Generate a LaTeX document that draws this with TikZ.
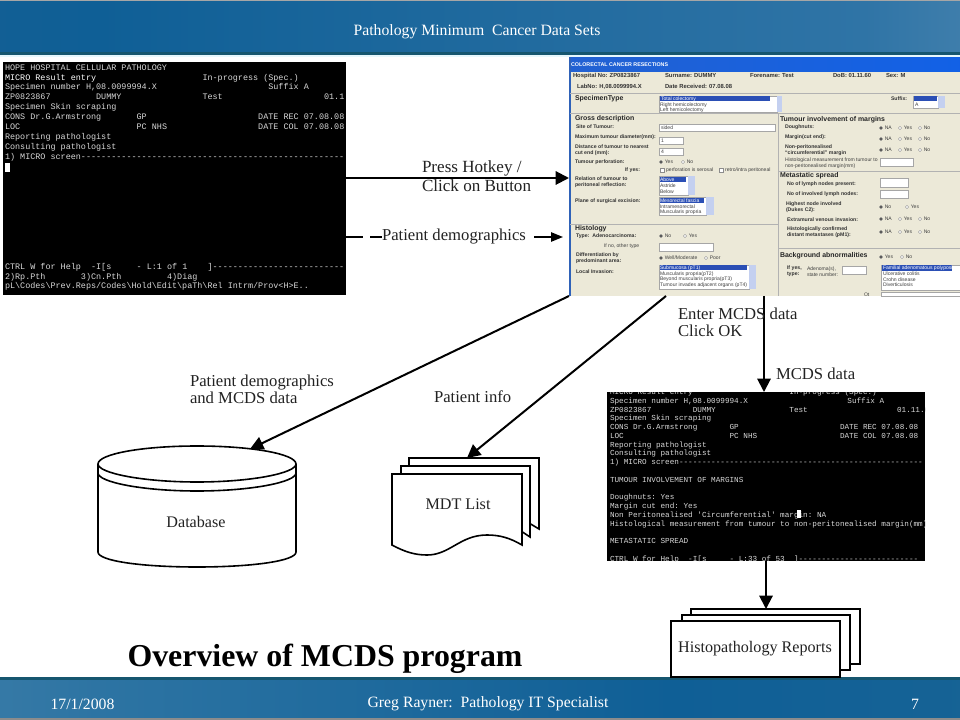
\documentclass[tikz,border=0pt]{standalone}
\usepackage{fontspec}
\setmainfont{Liberation Serif}
\setsansfont{Liberation Sans}
\setmonofont{Liberation Mono}
\usetikzlibrary{arrows.meta}
\definecolor{hdA}{HTML}{1F5E8E}
\definecolor{hdB}{HTML}{0F5F96}
\definecolor{hdC}{HTML}{2F74A6}
\definecolor{hdD}{HTML}{8AAEC6}
\definecolor{ftA}{HTML}{5F93B4}
\definecolor{ftB}{HTML}{2D74A3}
\definecolor{ftC}{HTML}{1A6595}
\definecolor{ftD}{HTML}{4D87AD}
\definecolor{tbA}{HTML}{2A62C8}
\definecolor{tbB}{HTML}{0A60F0}
\definecolor{bandc}{HTML}{16566F}
\definecolor{formbg}{HTML}{ECE9D8}
\definecolor{termtext}{HTML}{D8D8D8}
\definecolor{selblue}{HTML}{2B4FB5}
\definecolor{scrollb}{HTML}{C4D0F0}
\definecolor{labtext}{HTML}{222222}
\definecolor{formedge}{HTML}{2F62B8}
\pgfdeclarehorizontalshading{headbar}{100bp}{color(0bp)=(hdA);color(30bp)=(hdB);color(70bp)=(hdC);color(100bp)=(hdD)}
\pgfdeclarehorizontalshading{footbar}{100bp}{color(0bp)=(ftA);color(30bp)=(ftB);color(60bp)=(hdB);color(85bp)=(ftC);color(100bp)=(ftD)}
\pgfdeclarehorizontalshading{titlebar}{100bp}{color(0bp)=(tbA);color(100bp)=(tbB)}
\newcommand{\sk}[1]{\hspace*{#1\dimexpr 0.6001em\relax}}
\tikzset{
  x=0.75pt,y=-0.75pt,
  term/.style={anchor=north west,inner sep=0pt,outer sep=0pt,text=termtext,align=left,font=\ttfamily\fontsize{6.33pt}{7.42pt}\selectfont},
  termb/.style={anchor=north west,inner sep=0pt,outer sep=0pt,text=termtext,align=left,font=\ttfamily\fontsize{5.75pt}{6.58pt}\selectfont},
  lab/.style={anchor=west,inner sep=0pt,outer sep=0pt,text=labtext,align=left,font=\fontsize{12.5pt}{12.8pt}\selectfont},
  boxlab/.style={inner sep=0pt,outer sep=0pt,text=labtext,font=\fontsize{12.1pt}{13pt}\selectfont},
  barlab/.style={inner sep=0pt,outer sep=0pt,text=white,font=\fontsize{11.8pt}{13pt}\selectfont},
  flow/.style={draw=black,line width=1.5pt,-{Triangle[length=10pt,width=10pt]}},
  flowplain/.style={draw=black,line width=1.2pt},
  flowsmall/.style={draw=black,line width=1.2pt,-{Triangle[length=9pt,width=7pt]}},
  shapeln/.style={draw=black,line width=1.2pt,fill=white},
  fb/.style={anchor=west,inner sep=0pt,outer sep=0pt,text=black!80,font=\sffamily\bfseries\fontsize{3.9pt}{4.3pt}\selectfont,align=left},
  fbig/.style={anchor=west,inner sep=0pt,outer sep=0pt,text=black!80,font=\sffamily\bfseries\fontsize{4.4pt}{5pt}\selectfont},
  fn/.style={anchor=west,inner sep=0pt,outer sep=0pt,text=black!75,font=\sffamily\fontsize{3.8pt}{4.3pt}\selectfont,align=left},
  fh/.style={anchor=west,inner sep=0pt,outer sep=0pt,text=black!85,font=\sffamily\bfseries\fontsize{5.2pt}{5.6pt}\selectfont},
  inbox/.style={fill=white,draw=black!35,line width=0.3pt},
  selrow/.style={fill=selblue},
  scroll/.style={fill=scrollb},
  sepline/.style={draw=black!30,line width=0.4pt},
  radoff/.style={draw=black!45,line width=0.25pt,fill=white,circle,minimum size=2.4pt,inner sep=0pt},
  radon/.style={draw=black!45,line width=0.25pt,fill=black!70,circle,minimum size=2.4pt,inner sep=0pt},
  chk/.style={draw=black!45,line width=0.25pt,fill=white,minimum size=3pt,inner sep=0pt},
}
% name, x, y, style, label
\newcommand{\rad}[5]{\node[#4] (#1) at (#2,#3) {}; \node[fn,right=1.5pt] (#1t) at (#1.east) {#5};}
\begin{document}
\begin{tikzpicture}
\useasboundingbox (0,0) rectangle (960,720);
\fill[white] (0,0) rectangle (960,720);
% header bar
\shade[shading=headbar] (0,0) rectangle (960,52);
\fill[black!35] (0,0) rectangle (960,1.5);
\fill[bandc] (0,52) rectangle (960,55.5);
\fill[cyan!10] (0,55.5) rectangle (960,57);
\node[barlab] (title) at (477,32) {Pathology Minimum\ \ Cancer Data Sets};
% footer bar
\shade[shading=footbar] (0,677) rectangle (960,718);
\fill[bandc] (0,677) rectangle (960,680);
\fill[black!45] (0,718) rectangle (960,720);
\node[barlab] (fdate) at (82.5,704) {17/1/2008};
\node[barlab] (fname) at (488,704) {Greg Rayner:\ \ Pathology IT Specialist};
\node[barlab] (fpage) at (915,704) {7};

% first terminal
\node[fill=black,minimum width=343*0.75pt,minimum height=233*0.75pt,inner sep=0pt,outer sep=0pt,anchor=north west] (term1) at (3,62) {};
\node[term] (t1top) at (5,64.5) {HOPE HOSPITAL CELLULAR PATHOLOGY\\
\textcolor{white}{MICRO Result entry}\sk{21}In-progress (Spec.)\\
Specimen number H,08.0099994.X\sk{22}Suffix A\\
ZP0823867\sk{9}DUMMY\sk{16}Test\sk{20}01.1\\
Specimen Skin scraping\\
CONS Dr.G.Armstrong\sk{7}GP\sk{22}DATE REC 07.08.08\\
LOC\sk{23}PC NHS\sk{18}DATE COL 07.08.08\\
Reporting pathologist\\
Consulting pathologist\\
1) MICRO screen----------------------------------------------------};
\fill[white] (5,163.5) rectangle (10,172);
\node[term] (t1bot) at (5,263) {CTRL W for Help\sk{2}-I[s\sk{5}- L:1 of 1\sk{4}]--------------------------\\
2)Rp.Pth\sk{7}3)Cn.Pth\sk{9}4)Diag\\
pL\textbackslash Codes\textbackslash Prev.Reps/Codes\textbackslash Hold\textbackslash Edit\textbackslash paTh\textbackslash Rel Intrm/Prov<H>E..};

% form window
\node[fill=formbg,minimum width=391*0.75pt,minimum height=239*0.75pt,inner sep=0pt,outer sep=0pt,anchor=north west] (form) at (569,57) {};
\shade[shading=titlebar] (570,58) rectangle (960,72);
\fill[formedge] (568.5,57) rectangle (570.5,296);
\node[fb,text=white,font=\sffamily\bfseries\fontsize{4pt}{5pt}\selectfont] (fa1) at (571,65) {COLORECTAL CANCER RESECTIONS};
\node[fbig] (fa2) at (573,75.5) {Hospital No: ZP0823867};
\node[fbig] (fa3) at (665,75.5) {Surname: DUMMY};
\node[fbig] (fa4) at (750,75.5) {Forename: Test};
\node[fbig] (fa5) at (833,75.5) {DoB: 01.11.60};
\node[fbig] (fa6) at (886,75.5) {Sex: M};
\node[fbig] (fa7) at (577,86.5) {LabNo: H,08.0099994.X};
\node[fbig] (fa8) at (665,86) {Date Received: 07.08.08};
\draw[sepline] (570,93) -- (960,93);
\draw[sepline] (570,113) -- (960,113);
\draw[sepline] (778,113) -- (778,296);
\draw[sepline] (570,224) -- (778,224);
\draw[sepline] (778,171) -- (960,171);
\draw[sepline] (778,248) -- (960,248);
% specimen type
\node[fh] (fc1) at (575,99) {SpecimenType};
\filldraw[inbox] (659,96) rectangle (777,112);
\fill[selrow] (660,96.5) rectangle (770,101.5);
\fill[scroll] (777,96) rectangle (782,112);
\node[fn,text=white] (fc2) at (661,99) {Total colectomy};
\node[fn] (fc3) at (660,105) {Right hemicolectomy};
\node[fn] (fc4) at (660,110.5) {Left hemicolectomy};
\node[fb] (fc5) at (891,99) {Suffix:};
\filldraw[inbox] (913,96) rectangle (938,108);
\fill[selrow] (914,96.5) rectangle (937,101.5);
\fill[scroll] (938,96) rectangle (945,108);
\node[fn] (fc6) at (915,104.5) {A};
% gross description
\node[fh] (fd1) at (575,119) {Gross description};
\node[fb] (fd2) at (576,127) {Site of Tumour:};
\filldraw[inbox] (659,124) rectangle (775,131);
\node[fn] (fd3) at (661,127.5) {sided};
\node[fb] (fd4) at (575,137) {Maximum tumour diameter(mm):};
\filldraw[inbox] (659,137) rectangle (683,144);
\node[fn] (fd5) at (661,140.5) {1};
\node[fb] (fd6) at (575,150) {Distance of tumour to nearest\\cut end (mm):};
\filldraw[inbox] (659,148) rectangle (683,155);
\node[fn] (fd7) at (661,151.5) {4};
\node[fb] (fd8) at (575,162) {Tumour perforation:};
\rad{ra}{661}{162}{radon}{Yes}
\rad{rb}{683}{162}{radoff}{No}
\node[fb] (fd9) at (625,170) {If yes:};
\node[chk] (ca) at (662,170) {};
\node[fn,right=1.5pt] (cat) at (ca.east) {perforation is serosal};
\node[chk] (cb) at (721,170) {};
\node[fn,right=1.5pt] (cbt) at (cb.east) {retro/intra peritoneal};
\node[fb] (fe1) at (575,182.5) {Relation of tumour to\\peritoneal reflection:};
\filldraw[inbox] (659,176) rectangle (688,195);
\fill[selrow] (660,177) rectangle (686,182);
\fill[scroll] (688,176) rectangle (695,195);
\node[fn,text=white] (fe2) at (660,179.5) {Above};
\node[fn] (fe3) at (660,186) {Astride};
\node[fn] (fe4) at (660,192) {Below};
\node[fb] (fe5) at (575,201) {Plane of surgical excision:};
\filldraw[inbox] (659,197) rectangle (706,215);
\fill[selrow] (660,198) rectangle (704,203);
\fill[scroll] (706,197) rectangle (714,215);
\node[fn,text=white] (fe6) at (660,200.5) {Mesorectal fascia};
\node[fn] (fe7) at (660,206.5) {Intramesorectal};
\node[fn] (fe8) at (660,212) {Muscularis propria};
% histology
\node[fh] (fg1) at (575,228.5) {Histology};
\node[fb] (fg2) at (576,236) {Type:\ \ Adenocarcinoma:};
\rad{rc}{661}{236}{radon}{No}
\rad{rd}{685}{236}{radoff}{Yes}
\node[fn] (fg3) at (604,246) {If no, other type};
\filldraw[inbox] (659,243) rectangle (713,251);
\node[fb] (fg4) at (576,258) {Differentiation by\\predominant area:};
\rad{re}{661}{258}{radon}{Well/Moderate}
\rad{rf}{706}{258}{radoff}{Poor}
\node[fb] (fg5) at (576,272) {Local Invasion:};
\filldraw[inbox] (659,265) rectangle (749,289);
\fill[selrow] (660,265.5) rectangle (747,270.5);
\fill[scroll] (749,265) rectangle (756,289);
\node[fn,text=white] (fg6) at (660,268) {Submucosa (pT1)};
\node[fn] (fg7) at (660,274) {Muscularis propria(pT2)};
\node[fn] (fg8) at (660,279.5) {Beyond muscularis propria(pT3)};
\node[fn] (fg9) at (660,285) {Tumour invades adjacent organs (pT4)};
% margins
\node[fh] (fm1) at (780,120) {Tumour involvement of margins};
\node[fb] (fm2) at (785,127.5) {Doughnuts:};
\rad{rg}{881}{128}{radon}{NA}
\rad{rh}{900}{128}{radoff}{Yes}
\rad{ri}{920}{128}{radoff}{No}
\node[fb] (fm3) at (785,137.5) {Margin(cut end):};
\rad{rj}{881}{139}{radon}{NA}
\rad{rk}{900}{139}{radoff}{Yes}
\rad{rl}{920}{139}{radoff}{No}
\node[fb] (fm4) at (785,150) {Non-peritonealised\\``circumferential'' margin};
\rad{rm}{881}{150}{radon}{NA}
\rad{rn}{900}{150}{radoff}{Yes}
\rad{ro}{920}{150}{radoff}{No}
\node[fn] (fm5) at (785,163) {Histological measurement from tumour to\\non-peritonealised margin(mm)};
\filldraw[inbox] (880,158) rectangle (913,166);
% metastatic
\node[fh] (fs1) at (780,176) {Metastatic spread};
\node[fb] (fs2) at (787,184) {No of lymph nodes present:};
\filldraw[inbox] (880,178) rectangle (908,187);
\node[fb] (fs3) at (787,194) {No of involved lymph nodes:};
\filldraw[inbox] (880,190) rectangle (908,198);
\node[fb] (fs4) at (786,207) {Highest node involved\\(Dukes C2):};
\rad{rp}{881}{207}{radon}{No}
\rad{rq}{907}{207}{radoff}{Yes}
\node[fb] (fs5) at (787,220) {Extramural venous invasion:};
\rad{rr}{881}{219}{radon}{NA}
\rad{rs}{900}{219}{radoff}{Yes}
\rad{rt}{920}{219}{radoff}{No}
\node[fb] (fs6) at (787,232) {Histologically confirmed\\distant metastases (pM1):};
\rad{ru}{881}{232}{radon}{NA}
\rad{rv}{900}{232}{radoff}{Yes}
\rad{rw}{920}{232}{radoff}{No}
% background
\node[fh] (fx1) at (780,256) {Background abnormalities};
\rad{rx}{881}{257}{radon}{Yes}
\rad{ry}{902}{257}{radoff}{No}
\node[fb] (fx2) at (787,271.5) {If yes,\\type:};
\node[fn] (fx3) at (807,271.5) {Adenoma(s),\\state number:};
\filldraw[inbox] (842,266) rectangle (866,274);
\filldraw[inbox] (881,265) rectangle (960,290);
\fill[selrow] (882,265.5) rectangle (952,271);
\node[fn,text=white] (fx4) at (883,268.5) {Familial adenomatous polyposis};
\node[fn] (fx5) at (883,274) {Ulcerative colitis};
\node[fn] (fx6) at (883,279.5) {Crohn disease};
\node[fn] (fx7) at (883,285) {Diverticulosis};
\node[fn] (fx8) at (864,295) {Ot};
\filldraw[inbox] (881,292) rectangle (960,296);

% second terminal
\node[fill=black,minimum width=318*0.75pt,minimum height=169*0.75pt,inner sep=0pt,outer sep=0pt,anchor=north west] (scr2) at (607,392) {};
\begin{scope}
\clip (607,392) rectangle (925,561);
\node[termb] (t2) at (610,389) {MICRO Result entry\sk{21}In-progress (Spec.)\\
Specimen number H,08.0099994.X\sk{21.6}Suffix A\\
ZP0823867\sk{9}DUMMY\sk{16}Test\sk{19.4}01.11.60\\
Specimen Skin scraping\\
CONS Dr.G.Armstrong\sk{7}GP\sk{22}DATE REC 07.08.08\\
LOC\sk{23}PC NHS\sk{18}DATE COL 07.08.08\\
Reporting pathologist\\
Consulting pathologist\\
1) MICRO screen-----------------------------------------------------\\
\mbox{}\\
TUMOUR INVOLVEMENT OF MARGINS\\
\mbox{}\\
Doughnuts: Yes\\
Margin cut end: Yes\\
Non Peritonealised 'Circumferential' margin: NA\\
Histological measurement from tumour to non-peritonealised margin(mm)\\
\mbox{}\\
METASTATIC SPREAD\\
\mbox{}\\
CTRL W for Help\sk{2}-I[s\sk{5}- L:33 of 53\sk{2}]--------------------------};
\end{scope}
\fill[white] (797,509.5) rectangle (801,517.5);

% database
\path[shapeln] (98,464) -- (98,552) .. controls (98,561) and (142,567) .. (197,567) .. controls (252,567) and (296,561) .. (296,552) -- (296,464) .. controls (296,454) and (252,446) .. (197,446) .. controls (142,446) and (98,454) .. (98,464) -- cycle;
\draw[shapeln,fill=none] (98,473) .. controls (98,482) and (142,491) .. (197,491) .. controls (252,491) and (296,482) .. (296,473);
\draw[shapeln,fill=none] (98,464) .. controls (98,473) and (142,482) .. (197,482) .. controls (252,482) and (296,473) .. (296,464);
\node[boxlab] (db) at (196,522) {Database};
\coordinate (dbtop) at (250,449);

% MDT list
\path[shapeln] (409,458) -- (539,458) -- (539,529) -- (529,523) -- (409,523) -- cycle;
\path[shapeln] (401,466) -- (530,466) -- (530,537) -- (521,531) -- (401,531) -- cycle;
\path[shapeln] (392,474) -- (522,474) -- (522,545) .. controls (510,538) and (500,535) .. (487,535) .. controls (460,535) and (450,555) .. (427,555) .. controls (415,555) and (405,552) .. (392,545) -- cycle;
\node[boxlab] (mdt) at (458,504) {MDT List};
\coordinate (mdttop) at (467,458);

% histopathology reports
\path[shapeln] (691,609) rectangle (860,664);
\path[shapeln] (682,615) rectangle (850,670);
\path[shapeln] (671,621) rectangle (840,677);
\node[boxlab] (hist) at (755,649) {Histopathology Reports};
\coordinate (histtop) at (766,609);

% connectors
\coordinate (p1) at (346,178);
\coordinate (p2) at (568,178);
\draw[flow] (term1.east |- p1) -- (form.west |- p2);
\node[lab,font=\fontsize{12.8pt}{13pt}\selectfont] (l1) at (422,168.5) {Press Hotkey /};
\node[lab,font=\fontsize{12.8pt}{13pt}\selectfont] (l2) at (422,185.5) {Click on Button};
\coordinate (q1) at (346,237);
\coordinate (q2) at (363,237);
\coordinate (q3) at (370,237);
\coordinate (q4) at (534,237);
\coordinate (q5) at (563,237);
\draw[flowplain] (q1) -- (q2);
\node[lab] (l3) at (382,237) {Patient demographics};
\draw[flowplain] (q3) -- (l3.west);
\draw[flowsmall] (q4) -- (q5);
\coordinate (fa) at (569,296);
\coordinate (fb) at (666,296);
\coordinate (fc) at (764,296);
\draw[flow] (fa) -- (dbtop);
\draw[flow] (fb) -- (mdttop);
\draw[flow] (fc) -- (fc |- scr2.north);
\coordinate (sb) at (766,561);
\draw[flow] (sb) -- (histtop);
\node[lab] (l4) at (190,389.5) {Patient demographics\\and MCDS data};
\node[lab] (l5) at (434,397) {Patient info};
\node[lab] (l6) at (678,322) {Enter MCDS data\\Click OK};
\node[lab] (l7) at (776,374) {MCDS data};
\node[inner sep=0pt,outer sep=0pt,text=black,font=\bfseries\fontsize{23.9pt}{28pt}\selectfont] (big) at (325,659) {Overview of MCDS program};
\end{tikzpicture}
\end{document}
